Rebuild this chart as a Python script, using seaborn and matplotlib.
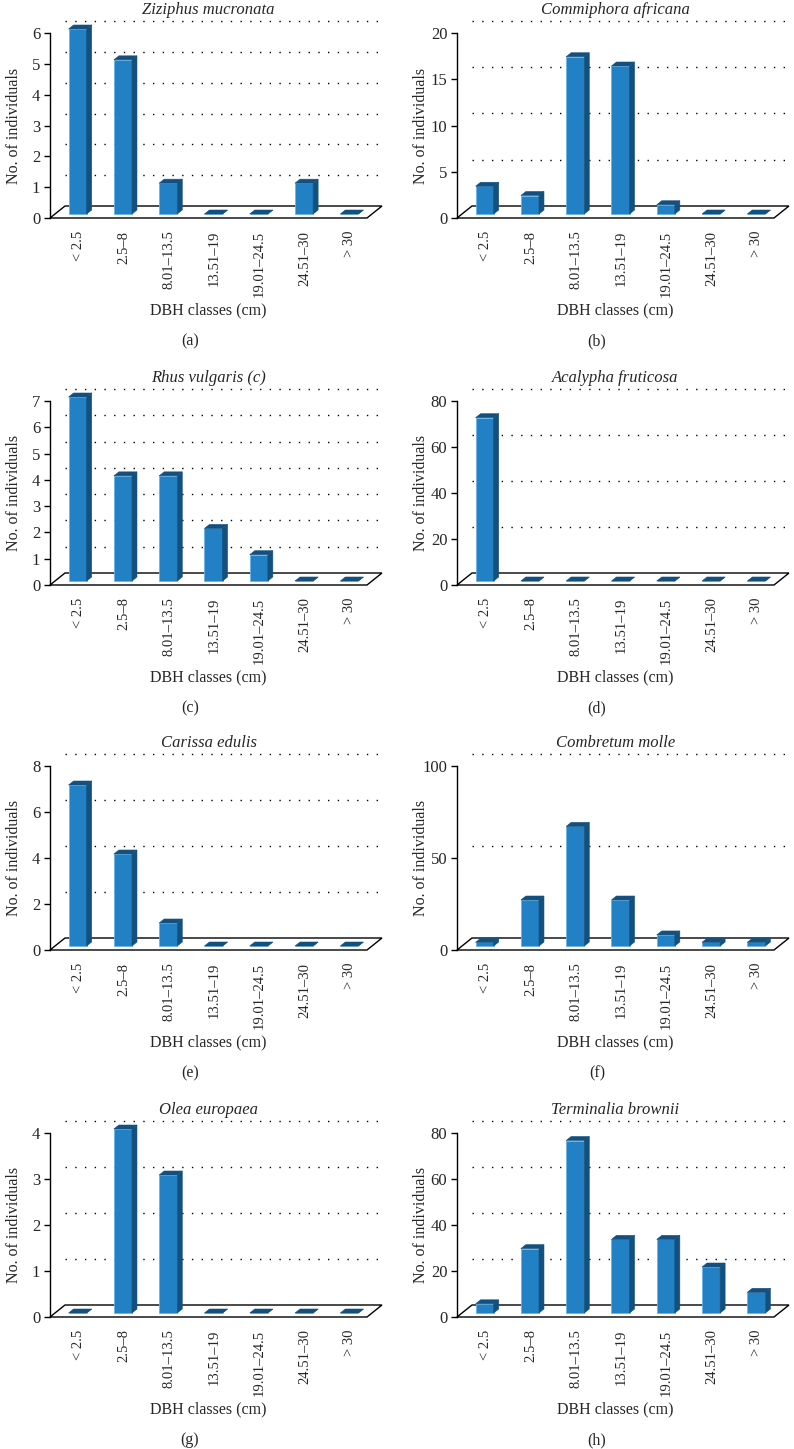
import matplotlib
matplotlib.use("Agg")
import matplotlib.pyplot as plt
from matplotlib.patches import Polygon
from matplotlib.transforms import ScaledTranslation
import seaborn as sns

# DBH classes shared by every panel
classes = ["< 2.5", "2.5–8", "8.01–13.5", "13.51–19", "19.01–24.5", "24.51–30", "> 30"]

# number of individuals per class
ziziphus = [6, 5, 1, 0, 0, 1, 0]
commiphora = [3, 2, 17, 16, 1, 0, 0]
rhus = [7, 4, 4, 2, 1, 0, 0]
acalypha = [71, 0, 0, 0, 0, 0, 0]
carissa = [7, 4, 1, 0, 0, 0, 0]
combretum = [2, 25, 65, 25, 6, 2, 2]
olea = [0, 4, 3, 0, 0, 0, 0]
terminalia = [4, 28, 75, 32, 32, 20, 9]

species = ["Ziziphus mucronata", "Commiphora africana", "Rhus vulgaris (c)",
           "Acalypha fruticosa", "Carissa edulis", "Combretum molle",
           "Olea europaea", "Terminalia brownii"]
letters = ["(a)", "(b)", "(c)", "(d)", "(e)", "(f)", "(g)", "(h)"]
yticks = [[0, 1, 2, 3, 4, 5, 6], [0, 5, 10, 15, 20], [0, 1, 2, 3, 4, 5, 6, 7],
          [0, 20, 40, 60, 80], [0, 2, 4, 6, 8], [0, 50, 100],
          [0, 1, 2, 3, 4], [0, 20, 40, 60, 80]]
counts = [ziziphus, commiphora, rhus, acalypha, carissa, combretum, olea, terminalia]

FRONT = "#2181c4"
DARK = "#14507e"
EDGE = "#6ab4e6"

sns.set_style("white")
plt.rcParams["font.family"] = ["Liberation Serif", "DejaVu Serif"]

W, H = 794, 1449
fig = plt.figure(figsize=(W / 100, H / 100), dpi=100)

# panel geometry in pixels
col_left = [50, 457]
col_right = [367, 774]
col_mid = [190, 597]
row_top = [33, 401, 766, 1133]
row_zero = [218, 585, 950, 1317]
depth_px = (15, 12)

for i, (vals, title, letter, yt) in enumerate(zip(counts, species, letters, yticks)):
    r, c = divmod(i, 2)
    left, right = col_left[c], col_right[c]
    top, zero = row_top[r], row_zero[r]
    ax = fig.add_axes([left / W, 1 - zero / H, (right - left) / W, (zero - top) / H])

    sns.barplot(x=classes, y=vals, ax=ax, color=FRONT, saturation=1, width=0.4,
                edgecolor=EDGE, linewidth=0.6, zorder=3)
    bars = list(ax.patches)
    ymax = yt[-1]
    ax.set_xlim(-0.5, 6.5)
    ax.set_ylim(0, ymax)
    dx = depth_px[0] / (right - left) * 7
    dy = depth_px[1] / (zero - top) * ymax

    # floor of the 3D box
    ax.add_patch(Polygon([(-0.5, 0), (6.5, 0), (6.5 + dx, dy), (-0.5 + dx, dy)],
                         closed=True, fc="white", ec="black", lw=1, zorder=1,
                         clip_on=False))
    # dotted gridlines on the back wall
    for t in yt[1:]:
        ax.plot([-0.5 + dx, 6.5 + dx], [t + dy, t + dy], color="black", lw=1,
                linestyle=(0, (1, 6)), zorder=0, clip_on=False)

    # push bars into the box and give them depth
    bx, by = dx / 3, dy / 3
    for p in bars:
        x0 = p.get_x() + bx
        w, h = p.get_width(), p.get_height()
        p.set_x(x0)
        p.set_y(by)
        p.set_clip_on(False)
        y1 = by + h
        ax.add_patch(Polygon([(x0 + w, by), (x0 + w, y1), (x0 + w + bx, y1 + by),
                              (x0 + w + bx, by + by)], closed=True, fc=DARK,
                             ec=DARK, lw=0.4, zorder=3, clip_on=False))
        ax.add_patch(Polygon([(x0, y1), (x0 + w, y1), (x0 + w + bx, y1 + by),
                              (x0 + bx, y1 + by)], closed=True, fc=DARK,
                             ec=DARK, lw=0.4, zorder=4, clip_on=False))

    sns.despine(ax=ax, bottom=True)
    ax.spines["left"].set_bounds(0, ymax)
    ax.spines["left"].set_color("black")
    ax.spines["left"].set_linewidth(1)
    ax.set_yticks(yt)
    ax.tick_params(axis="y", left=True, length=4, width=1, color="black",
                   labelsize=12, pad=3)
    ax.tick_params(axis="x", bottom=False, length=0, labelsize=10.5, pad=9,
                   labelrotation=90)
    for lab in ax.get_xticklabels():
        lab.set_transform(lab.get_transform() + ScaledTranslation(4 / 72, 0, fig.dpi_scale_trans))

    ax.set_title(title, style="italic", fontsize=12, pad=14)
    ax.set_xlabel("DBH classes (cm)", fontsize=11.5)
    ax.xaxis.set_label_coords(0.5, -84 / (zero - top))
    ax.set_ylabel("No. of individuals", fontsize=11.5)
    ax.yaxis.set_label_coords(-28 / (right - left), 0.5)

    fig.text(col_mid[c] / W, 1 - (zero + 123) / H, letter, ha="center",
             va="center", fontsize=11.5)

fig.savefig("out.png", dpi=100)
